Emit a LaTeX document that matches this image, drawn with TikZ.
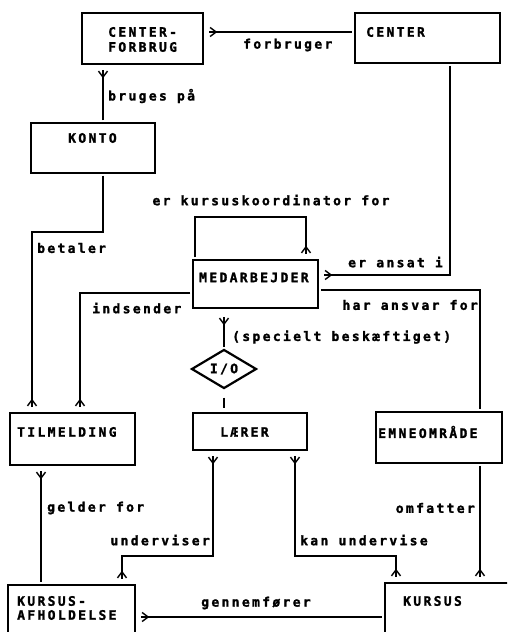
\documentclass[tikz,border=0pt]{standalone}
\usepackage{fontspec}
\usetikzlibrary{arrows.meta,shapes.geometric}
\newfontfamily\dotfont[LetterSpace=18,FakeBold=1.6]{DejaVu Sans Mono Bold}
\tikzset{
  crow/.tip={Straight Barb[reversed,length=6pt,width=9pt,line width=1.4pt]},
  conn/.style={line width=1.3pt, shorten <=1.5pt, shorten >=1.5pt},
  crowE/.style={-crow, shorten >=5pt, postaction={draw, arrows=-}},
  crowS/.style={crow-, shorten <=5pt, postaction={draw, arrows=-}},
  crowB/.style={crow-crow, shorten <=5pt, shorten >=5pt, postaction={draw, arrows=-}},
  ent/.style={draw, line width=2.8pt, inner sep=0pt},
  txt/.style={font=\dotfont\fontsize{13}{15}\selectfont, inner sep=0pt, anchor=west},
  lab/.style={txt}
}
\begin{document}
\begin{tikzpicture}[x=1pt,y=-1pt]
\fill[white] (0,0) rectangle (507,632);
\clip (0,0) rectangle (507,632);
% entities
\node[ent, minimum width=121pt, minimum height=51pt] (cf) at (142.5,38.5) {};
\node[ent, minimum width=145pt, minimum height=50pt] (center) at (427.5,38) {};
\node[ent, minimum width=124pt, minimum height=50pt] (konto) at (93,148) {};
\node[ent, minimum width=125pt, minimum height=48pt] (med) at (255.5,284) {};
\node[ent, minimum width=125pt, minimum height=52pt] (tilm) at (72.5,439) {};
\node[ent, minimum width=114pt, minimum height=37pt] (laerer) at (250,431.5) {};
\node[ent, minimum width=126pt, minimum height=51pt] (emne) at (439,437.5) {};
\node[ent, minimum width=127pt, minimum height=70pt] (ka) at (71.5,620) {};
\node[ent, minimum width=140pt, minimum height=74pt] (kursus) at (455,620) {};
\node[draw, diamond, line width=2.2pt, minimum width=65pt, minimum height=34pt, inner sep=0pt,
  font=\dotfont\fontsize{13}{15}\selectfont] (io) at (224,369) {I/O};
% entity texts
\node[txt] (cf-t1) at (108,32) {CENTER-};
\node[txt] (cf-t2) at (108,47) {FORBRUG};
\node[txt] (center-t) at (366,32) {CENTER};
\node[txt] (konto-t) at (68,138) {KONTO};
\node[txt] (med-t) at (199,277.5) {MEDARBEJDER};
\node[txt] (tilm-t) at (17,432) {TILMELDING};
\node[txt] (laerer-t) at (220,432) {LÆRER};
\node[txt] (emne-t) at (378,432) {EMNEOMRÅDE};
\node[txt] (ka-t1) at (17,601) {KURSUS-};
\node[txt] (ka-t2) at (17,615) {AFHOLDELSE};
\node[txt] (kursus-t) at (403,601) {KURSUS};
% level coordinates
\coordinate (r32) at (0,32);
\coordinate (r217) at (0,217);
\coordinate (r232) at (0,232);
\coordinate (r275) at (0,275);
\coordinate (r290) at (0,290);
\coordinate (r293) at (0,293);
\coordinate (r556) at (0,556);
\coordinate (r617) at (0,617);
\coordinate (c32) at (32,0);
\coordinate (c41) at (41,0);
\coordinate (c80) at (80,0);
\coordinate (c103) at (103,0);
\coordinate (c122) at (122,0);
\coordinate (c195) at (195,0);
\coordinate (c213) at (213,0);
\coordinate (c295) at (295,0);
\coordinate (c306) at (306,0);
\coordinate (c396) at (396,0);
\coordinate (c450) at (450,0);
\coordinate (c480) at (480,0);
% connectors
\draw[conn, crowS] (cf.east |- r32) -- (center.west |- r32);
\draw[conn, crowE] (konto.north -| c103) -- (cf.south -| c103);
\draw[conn, crowE] (center.south -| c450) |- (med.east |- r275);
\draw[conn, crowE] (konto.south -| c103) |- (c32 |- r232) -- (tilm.north -| c32);
\draw[conn, crowE] (med.north -| c195) |- (c306 |- r217) -- (med.north -| c306);
\draw[conn, crowE] (med.west |- r293) -| (tilm.north -| c80);
\draw[conn] (med.east |- r290) -| (emne.north -| c480);
\draw[conn, crowS, shorten <=8pt] (med.south -| io) -- (io.north);
\draw[conn, shorten <=8pt, shorten >=4pt] (io.south) -- (laerer.north -| io);
\draw[conn, crowS] (tilm.south -| c41) -- (ka.north -| c41);
\draw[conn, crowB] (laerer.south -| c213) |- (c122 |- r556) -- (ka.north -| c122);
\draw[conn, crowB] (laerer.south -| c295) |- (c396 |- r556) -- (kursus.north -| c396);
\draw[conn, crowE] (emne.south -| c480) -- (kursus.north -| c480);
\draw[conn, crowS] (ka.east |- r617) -- (kursus.west |- r617);
% labels
\node[lab] (l-forbruger) at (243,45) {forbruger};
\node[lab] (l-bruges) at (108,96) {bruges på};
\node[lab, anchor=east] (l-ansat) at (443,262) {er ansat i};
\node[lab] (l-betaler) at (37,248) {betaler};
\node[lab, anchor=center] (l-koord) at (271,200) {er kursuskoordinator for};
\node[lab] (l-indsender) at (92,308) {indsender};
\node[lab, anchor=east] (l-ansvar) at (478,305) {har ansvar for};
\node[lab] (l-spec) at (232,337) {(specielt beskæftiget)};
\node[lab] (l-gelder) at (47,508) {gelder for};
\node[lab, anchor=east] (l-underviser) at (210,540) {underviser};
\node[lab] (l-kan) at (300,540) {kan undervise};
\node[lab, anchor=east] (l-omfatter) at (475,508) {omfatter};
\node[lab, anchor=center] (l-genn) at (256,603) {gennemfører};
\end{tikzpicture}
\end{document}
